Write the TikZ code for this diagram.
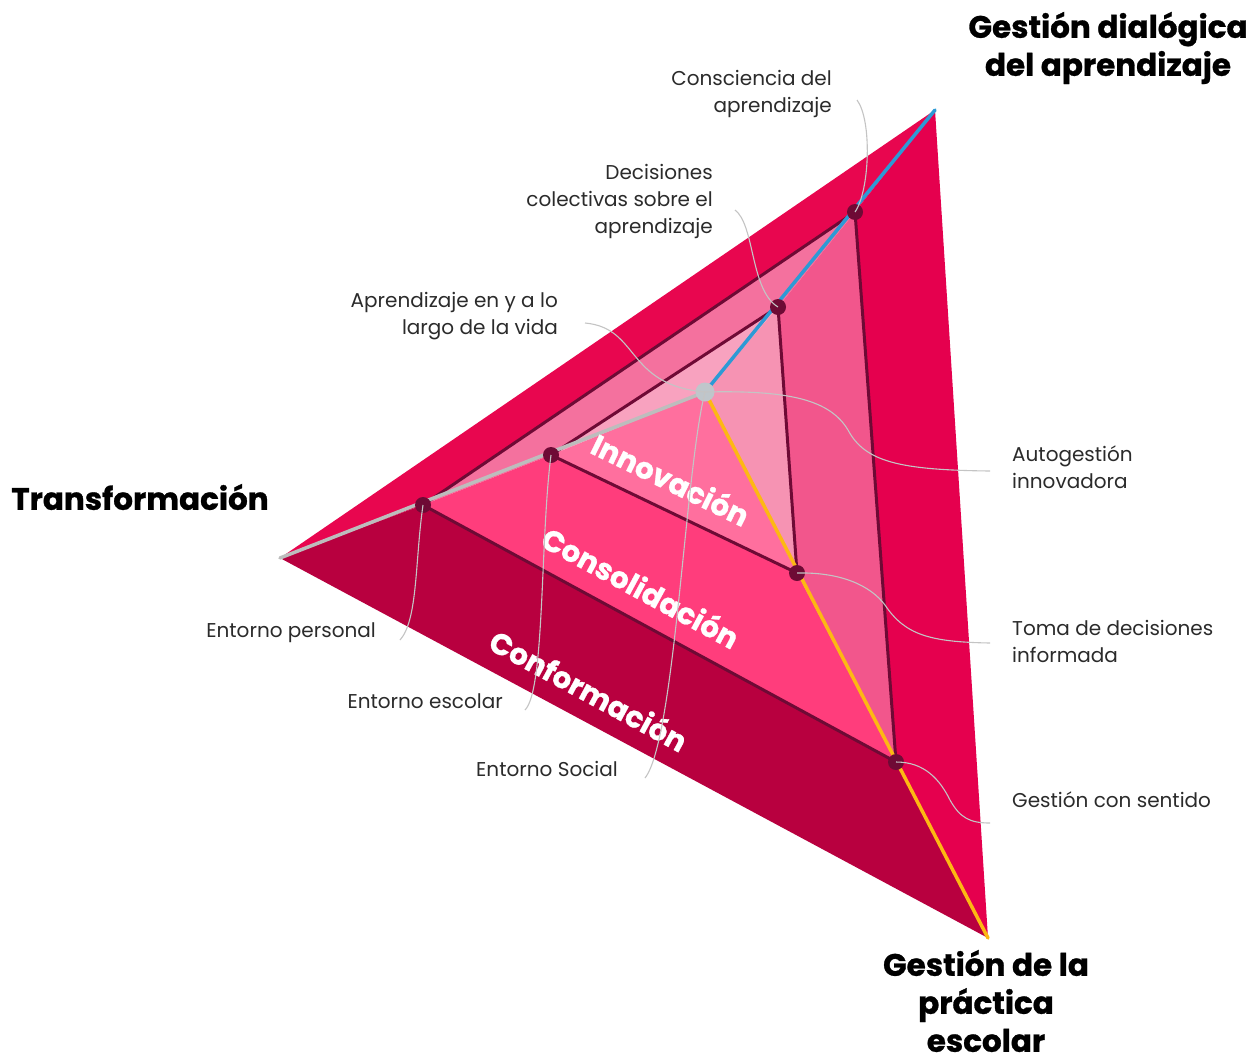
\documentclass[tikz,border=0pt]{standalone}
\usepackage{fontspec}
\setmainfont{Poppins}
\newfontfamily\heavyfont{Poppins}[BoldFeatures={FakeBold=0.9}]
\definecolor{faOut}{HTML}{E8064F}
\definecolor{faMid}{HTML}{F4719E}
\definecolor{faIn}{HTML}{F8A2BF}
\definecolor{fbOut}{HTML}{E5004E}
\definecolor{fbMid}{HTML}{F2568C}
\definecolor{fbIn}{HTML}{F693B3}
\definecolor{fcOut}{HTML}{B8003F}
\definecolor{fcMid}{HTML}{FF3D7C}
\definecolor{fcIn}{HTML}{FF6F9E}
\definecolor{lvl}{HTML}{6E0A35}
\definecolor{apexc}{HTML}{BFC6CB}
\definecolor{blueS}{HTML}{2D9AD5}
\definecolor{grayS}{HTML}{BDBDBD}
\definecolor{yelS}{HTML}{FDB813}
\definecolor{connc}{HTML}{C4C4C4}
\definecolor{txt}{HTML}{2B2B2B}
\begin{document}
\begin{tikzpicture}[x=1pt,y=-1pt,
  levelline/.style={draw=lvl, line width=3pt, line join=round},
  spoke/.style={line width=3.5pt, line cap=round},
  dot/.style={circle, fill=lvl, minimum size=16pt, inner sep=0},
  apexdot/.style={circle, fill=apexc, minimum size=19pt, inner sep=0},
  conn/.style={draw=connc, line width=1.1pt},
  lbl/.style={font=\fontsize{20}{27}\selectfont, text=txt, inner sep=0},
  head/.style={font=\heavyfont\bfseries\fontsize{31}{38}\selectfont, text=black, inner sep=0, align=center},
  layer/.style={font=\heavyfont\bfseries\fontsize{29.5}{29.5}\selectfont, text=white, inner sep=0}]
\useasboundingbox (0,0) rectangle (1257,1055);
\fill[white] (0,0) rectangle (1257,1055);
% geometry
\coordinate (T) at (935,110);
\coordinate (L) at (280,558);
\coordinate (B) at (988,938);
\coordinate (A) at (705,392);
\coordinate (T1) at (855,212);
\coordinate (L1) at (423,505);
\coordinate (B1) at (896,762);
\coordinate (T2) at (778,307);
\coordinate (L2) at (551,455);
\coordinate (B2) at (797,573);
% face A (upper left)
\fill[faOut] (T)--(L)--(L1)--(T1)--cycle;
\fill[faMid] (T1)--(L1)--(L2)--(T2)--cycle;
\fill[faIn] (T2)--(L2)--(A)--cycle;
% face B (right)
\fill[fbOut] (T)--(B)--(B1)--(T1)--cycle;
\fill[fbMid] (T1)--(B1)--(B2)--(T2)--cycle;
\fill[fbIn] (T2)--(B2)--(A)--cycle;
% face C (lower)
\fill[fcOut] (L)--(B)--(B1)--(L1)--cycle;
\fill[fcMid] (L1)--(B1)--(B2)--(L2)--cycle;
\fill[fcIn] (L2)--(B2)--(A)--cycle;
% level lines
\draw[levelline] (T1)--(L1)--(B1)--cycle;
\draw[levelline] (T2)--(L2)--(B2)--cycle;
% spokes
\draw[spoke, draw=blueS] (A)--(T);
\draw[spoke, draw=grayS] (A)--(L);
\draw[spoke, draw=yelS] (A)--(B);
% layer labels
\node[layer, rotate=-26] (lInn) at (671,479) {Innovación};
\node[layer, rotate=-28.5] (lCons) at (641,587) {Consolidación};
\node[layer, rotate=-28.5] (lConf) at (589,690) {Conformación};
% dots
\node[dot] (dT1) at (T1) {};
\node[dot] (dL1) at (L1) {};
\node[dot] (dB1) at (B1) {};
\node[dot] (dT2) at (T2) {};
\node[dot] (dL2) at (L2) {};
\node[dot] (dB2) at (B2) {};
\node[apexdot] (dA) at (A) {};
% headings
\node[head] (hTop) at (1108,48) {Gestión dialógica\\del aprendizaje};
\node[head] (hLeft) at (140,497) {Transformación};
\node[head] (hBot) at (986,1001) {Gestión de la\\práctica\\escolar};
% labels
\node[lbl, anchor=east, align=right] (tCon) at (832,94) {Consciencia del\\aprendizaje};
\node[lbl, anchor=east, align=right] (tDec) at (713,201) {Decisiones\\colectivas sobre el\\aprendizaje};
\node[lbl, anchor=east, align=right] (tApr) at (558,316) {Aprendizaje en y a lo\\largo de la vida};
\node[lbl, anchor=west, align=left] (tAut) at (1012,467) {Autogestión\\innovadora};
\node[lbl, anchor=west, align=left] (tTom) at (1012,641) {Toma de decisiones\\informada};
\node[lbl, anchor=west, align=left] (tGes) at (1012,800) {Gestión con sentido};
\node[lbl, anchor=east, align=right] (tEp) at (376,633) {Entorno personal};
\node[lbl, anchor=east, align=right] (tEe) at (503,701) {Entorno escolar};
\node[lbl, anchor=east, align=right] (tEs) at (618,769) {Entorno Social};
% connector free ends
\coordinate (cCon) at (857,100);
\coordinate (cDec) at (735,210);
\coordinate (cApr) at (585,323);
\coordinate (cAut) at (990,471);
\coordinate (cTom) at (990,643);
\coordinate (cGes) at (990,823);
\coordinate (cEp) at (400,640);
\coordinate (cEe) at (525,710);
\coordinate (cEs) at (645,778);
% connectors
\draw[conn] (cCon) .. controls (872,120) and (870,190) .. (dT1.center);
\draw[conn] (cDec) .. controls (755,225) and (750,290) .. (dT2.center);
\draw[conn] (cApr) .. controls (640,328) and (625,385) .. (dA.center);
\draw[conn] (dA.center) .. controls (790,390) and (830,400) .. (848,430) .. controls (865,462) and (900,470) .. (cAut);
\draw[conn] (dB2.center) .. controls (840,572) and (870,585) .. (885,605) .. controls (905,635) and (930,642) .. (cTom);
\draw[conn] (dB1.center) .. controls (925,762) and (940,780) .. (950,800) .. controls (960,818) and (970,823) .. (cGes);
\draw[conn] (dL1.center) .. controls (415,560) and (418,620) .. (cEp);
\draw[conn] (dL2.center) .. controls (540,540) and (545,690) .. (cEe);
\draw[conn] (dA.center) .. controls (685,470) and (675,740) .. (cEs);
\end{tikzpicture}
\end{document}
